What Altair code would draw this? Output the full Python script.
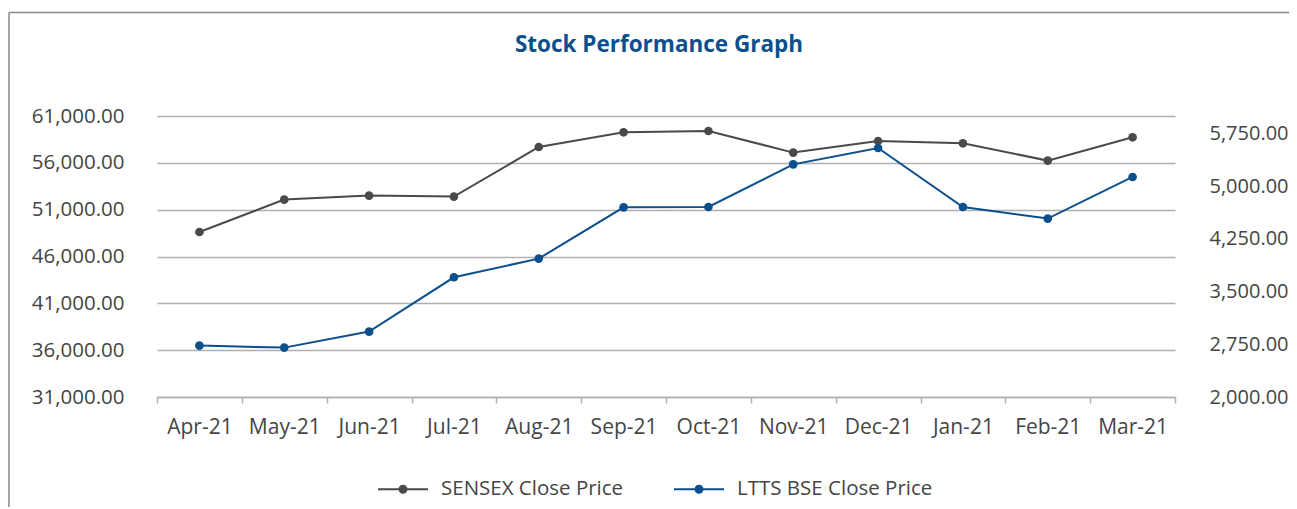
import altair as alt
import pandas as pd

months = ["Apr-21", "May-21", "Jun-21", "Jul-21", "Aug-21", "Sep-21",
          "Oct-21", "Nov-21", "Dec-21", "Jan-21", "Feb-21", "Mar-21"]
sensex = [48616, 52075, 52502, 52395, 57690, 59260, 59399, 57093, 58331, 58085, 56238, 58726]
ltts = [2732, 2703, 2931, 3704, 3970, 4700, 4705, 5312, 5544, 4705, 4540, 5132]
series_names = ["SENSEX Close Price", "LTTS BSE Close Price"]
left_ticks = [31000, 36000, 41000, 46000, 51000, 56000, 61000]
right_ticks = [2000, 2750, 3500, 4250, 5000, 5750]
title_text = "Stock Performance Graph"

GRAY = "#4a4a4a"
BLUE = "#0b4f8c"
TEXT = "#454545"
GRID = "#b0b0b0"
FONT = "Open Sans"

W, H = 1018, 281

df_s = pd.DataFrame({"month": months, "value": sensex, "series": series_names[0]})
df_l = pd.DataFrame({"month": months, "value": ltts, "series": series_names[1]})

x_enc = alt.X(
    "month:N", sort=months,
    scale=alt.Scale(type="band", paddingInner=0, paddingOuter=0),
    axis=alt.Axis(title=None, tickBand="extent", ticks=True, tickSize=6,
                  tickColor=GRID, tickWidth=1.5, domain=True, domainColor=GRID,
                  domainWidth=1.5, grid=False, labelFontSize=21, labelFont=FONT,
                  labelColor=TEXT, labelPadding=13, labelAngle=0),
)

legend_path = ("M-1,0L1,0"
               "M0.14,0A0.14,0.14,0,1,1,-0.14,0A0.14,0.14,0,1,1,0.14,0"
               "M0.08,0A0.08,0.08,0,1,1,-0.08,0A0.08,0.08,0,1,1,0.08,0"
               "M0.03,0A0.03,0.03,0,1,1,-0.03,0A0.03,0.03,0,1,1,0.03,0")

color_enc = alt.Color(
    "series:N",
    scale=alt.Scale(domain=series_names, range=[GRAY, BLUE]),
    legend=alt.Legend(title=None, orient="none", legendX=220, legendY=347,
                      direction="horizontal", symbolType=legend_path,
                      symbolSize=2500, symbolStrokeWidth=2,
                      labelFontSize=20.5, labelFont=FONT, labelColor=TEXT,
                      labelOffset=12, columnPadding=46, labelLimit=0),
)

left = alt.Chart(df_s).mark_line(
    strokeWidth=2, point=alt.OverlayMarkDef(filled=True, size=75, opacity=1)
).encode(
    x=x_enc,
    y=alt.Y("value:Q",
            scale=alt.Scale(domain=[31000, 61000], nice=False, zero=False),
            axis=alt.Axis(orient="left", title=None, values=left_ticks, format=",.2f",
                          grid=True, gridColor=GRID, gridWidth=1.5, ticks=False,
                          tickSize=0, domain=False, labelPadding=33, labelFontSize=20.5,
                          labelFont=FONT, labelColor=TEXT)),
    color=color_enc,
)

right = alt.Chart(df_l).mark_line(
    strokeWidth=2, point=alt.OverlayMarkDef(filled=True, size=75, opacity=1)
).encode(
    x=x_enc,
    y=alt.Y("value:Q",
            scale=alt.Scale(domain=[2000, 6000], nice=False, zero=False),
            axis=alt.Axis(orient="right", title=None, values=right_ticks, format=",.2f",
                          grid=False, ticks=False, tickSize=0, domain=False,
                          labelPadding=34, labelFontSize=20, labelFont=FONT,
                          labelColor=TEXT)),
    color=color_enc,
)

one = alt.Data(values=[{"k": 1}])
frame_top = alt.Chart(one).mark_rule(color="#8a8a8a", strokeWidth=1.5).encode(
    x=alt.value(-148), x2=alt.value(W + 200), y=alt.value(-103.5))
frame_left = alt.Chart(one).mark_rule(color="#8a8a8a", strokeWidth=1.5).encode(
    x=alt.value(-148), y=alt.value(-103.5), y2=alt.value(H + 200))
title = alt.Chart(one).mark_text(
    font=FONT, fontSize=22.5, fontWeight="bold", color=BLUE,
    align="center", baseline="alphabetic"
).encode(x=alt.value(502), y=alt.value(-64), text=alt.value(title_text))

chart = alt.layer(frame_top, frame_left, title, left, right).resolve_scale(
    y="independent"
).properties(
    width=W, height=H,
    autosize=alt.AutoSizeParams(type="none"),
    padding={"left": 149, "top": 108, "right": 114, "bottom": 110},
).configure_view(strokeWidth=0)

chart.save("out.html", embed_options={"renderer": "svg", "actions": False})
